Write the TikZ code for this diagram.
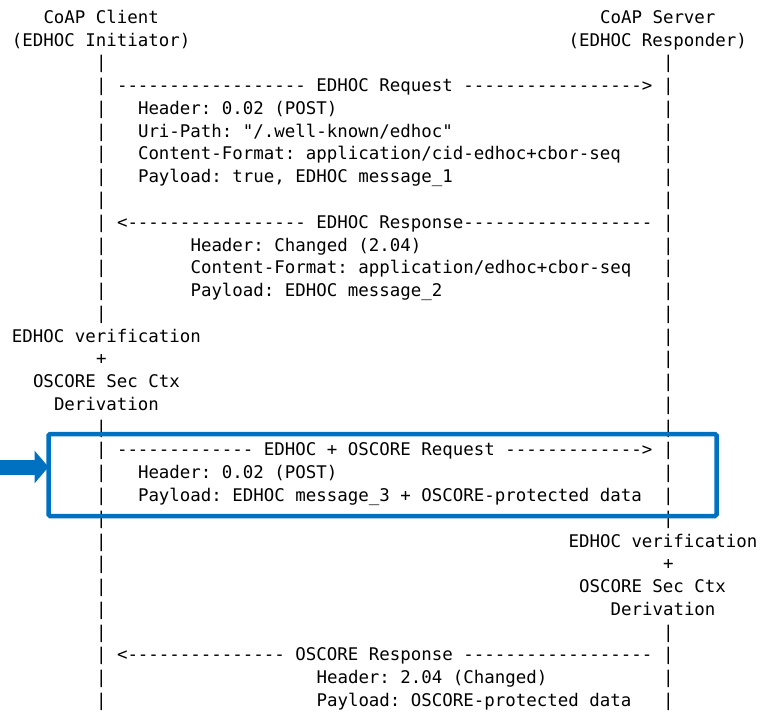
\documentclass[tikz,border=0pt]{standalone}
\usepackage{fontspec}
\setmonofont{DejaVu Sans Mono}
\usetikzlibrary{arrows.meta}

\definecolor{markblue}{RGB}{0,112,192}

\tikzset{
  line/.style={anchor=base west, inner sep=0pt, outer sep=0pt,
    font=\ttfamily\fontsize{17.44}{20}\selectfont},
  highlight/.style={draw=markblue, line width=4.5pt, rounded corners=1.5pt,
    inner sep=0pt, outer sep=0pt},
}

\begin{document}
\begin{tikzpicture}[x=1pt, y=-1pt]
  \useasboundingbox (0,0) rectangle (760,712);

  % one unit = one character cell: x counts columns, y counts rows
  \begin{scope}[shift={(12,23.3)}, x=10.5pt, y=-22.77pt]
    % endpoints
    \node [line] (client-name) at (3,0) {CoAP Client};
    \node [line] (server-name) at (56,0) {CoAP Server};
    \node [line] (client-role) at (0,1) {(EDHOC Initiator)};
    \node [line] (server-role) at (53,1) {(EDHOC Responder)};

    % lifelines
    \foreach \from/\to in {2/13, 18/30}
      \foreach \r in {\from,...,\to}
        \node [line] (client-\r) at (8,\r) {|};
    \foreach \from/\to in {2/22, 27/30}
      \foreach \r in {\from,...,\to}
        \node [line] (server-\r) at (62,\r) {|};

    % message 1
    \node [line] (req1-arrow) at (10,3) {------------------ EDHOC Request ----------------->};
    \node [line] (req1-header) at (12,4) {Header: 0.02 (POST)};
    \node [line] (req1-uri) at (12,5) {Uri-Path: "/.well-known/edhoc"};
    \node [line] (req1-format) at (12,6) {Content-Format: application/cid-edhoc+cbor-seq};
    \node [line] (req1-payload) at (12,7) {Payload: true, EDHOC message\_1};

    % message 2
    \node [line] (resp2-arrow) at (10,9) {<----------------- EDHOC Response------------------};
    \node [line] (resp2-header) at (17,10) {Header: Changed (2.04)};
    \node [line] (resp2-format) at (17,11) {Content-Format: application/edhoc+cbor-seq};
    \node [line] (resp2-payload) at (17,12) {Payload: EDHOC message\_2};

    % initiator side processing
    \node [line] (client-verify) at (0,14) {EDHOC verification};
    \node [line] (client-plus) at (8,15) {+};
    \node [line] (client-ctx) at (2,16) {OSCORE Sec Ctx};
    \node [line] (client-deriv) at (4,17) {Derivation};

    % message 3
    \node [line] (req3-arrow) at (10,19) {------------- EDHOC + OSCORE Request ------------->};
    \node [line] (req3-header) at (12,20) {Header: 0.02 (POST)};
    \node [line] (req3-payload) at (12,21) {Payload: EDHOC message\_3 + OSCORE-protected data};

    % responder side processing
    \node [line] (server-verify) at (53,23) {EDHOC verification};
    \node [line] (server-plus) at (62,24) {+};
    \node [line] (server-ctx) at (54,25) {OSCORE Sec Ctx};
    \node [line] (server-deriv) at (57,26) {Derivation};

    % protected response
    \node [line] (resp4-arrow) at (10,28) {<--------------- OSCORE Response ------------------};
    \node [line] (resp4-header) at (29,29) {Header: 2.04 (Changed)};
    \node [line] (resp4-payload) at (29,30) {Payload: OSCORE-protected data};
  \end{scope}

  % box round message 3 and the block arrow pointing at it
  \node [highlight, minimum width=668pt, minimum height=82pt] (msg3-box) at (382.5,475) {};
  \coordinate (pointer) at (0,467);
  \draw [markblue, line width=15pt, -{Triangle[length=14pt, width=32pt]}]
    (pointer) -- (pointer -| msg3-box.west);
\end{tikzpicture}
\end{document}
